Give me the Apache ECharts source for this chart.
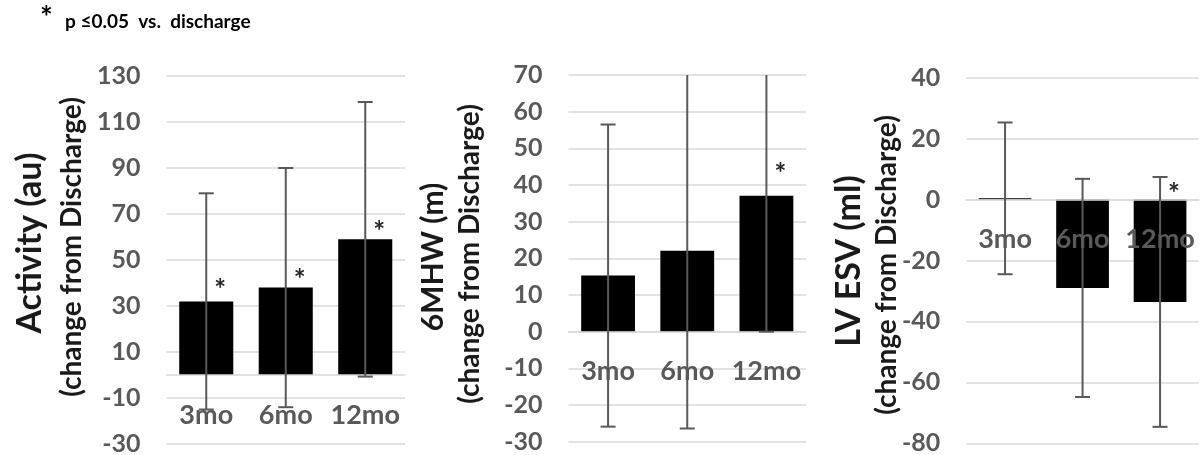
<!DOCTYPE html>
<html><head><meta charset="utf-8">
<script src="https://cdn.jsdelivr.net/npm/echarts@6/dist/echarts.min.js"></script>
<style>html,body{margin:0;padding:0;background:#fff}#c{width:1200px;height:455px}</style>
</head><body><div id="c"></div>
<script>
// ---- data ----
const categories = ['3mo', '6mo', '12mo'];

// Panel 1: Activity (au)
const activityMean = [32, 38, 59];
const activityErr = [47, 52, 59.7];
const activityStar = [40, 44.3, 65.2];
const activityAxis = [-30, 130, 20]; // min, max, interval

// Panel 2: 6MHW (m)
const walkMean = [15.3, 22.1, 37.1];
const walkErr = [41.2, 48.5, 37.1];
const walkStar = [null, null, 45];
const walkAxis = [-30, 70, 10];

// Panel 3: LV ESV (ml)
const esvMean = [0.4, -29, -33.6];
const esvErr = [24.9, 35.8, 41];
const esvStar = [null, null, 4.2];
const esvAxis = [-80, 40, 20];

const FONT = 'Lato, "Open Sans", sans-serif';
const GRAY = '#595959';
const GRID = '#d9d9d9';

const panels = [
  {mean: activityMean, err: activityErr, star: activityStar, axis: activityAxis,
   grid: {left: 166.5, top: 76, width: 238.5, height: 368}},
  {mean: walkMean, err: walkErr, star: walkStar, axis: walkAxis,
   grid: {left: 568.5, top: 75, width: 237.5, height: 366.7}},
  {mean: esvMean, err: esvErr, star: esvStar, axis: esvAxis,
   grid: {left: 966.3, top: 77.7, width: 232.5, height: 365.6}}
];

function errRender(params, api) {
  const x = api.value(0), lo = api.value(1), hi = api.value(2);
  const cs = params.coordSys;
  const pLo = api.coord([x, lo]), pHi = api.coord([x, hi]);
  const top = cs.y, bot = cs.y + cs.height;
  const cap = 7.5;
  const yHi = Math.max(pHi[1], top), yLo = Math.min(pLo[1], bot);
  const st = {stroke: GRAY, lineWidth: 2};
  const ch = [{type: 'line', shape: {x1: pHi[0], y1: yHi, x2: pHi[0], y2: yLo}, style: st}];
  if (pHi[1] >= top) ch.push({type: 'line', shape: {x1: pHi[0] - cap, y1: pHi[1], x2: pHi[0] + cap, y2: pHi[1]}, style: st});
  if (pLo[1] <= bot) ch.push({type: 'line', shape: {x1: pLo[0] - cap, y1: pLo[1], x2: pLo[0] + cap, y2: pLo[1]}, style: st});
  return {type: 'group', children: ch};
}
function starRender(params, api) {
  const p = api.coord([api.value(0), api.value(1)]);
  return {type: 'text', x: p[0] + 14, y: p[1] + 7,
    style: {text: '*', fill: '#262626', font: 'bold 28px ' + FONT, align: 'center', verticalAlign: 'middle'}};
}
// category labels drawn just below the zero line, as the reference does
function catRender(params, api) {
  const k = api.value(0);
  const p = api.coord([k, 0]);
  return {type: 'text', x: p[0], y: p[1] + 40,
    style: {text: categories[k], fill: GRAY, font: 'bold 27px ' + FONT, align: 'center', verticalAlign: 'middle'}};
}

const option = {
  animation: false,
  backgroundColor: '#fff',
  grid: panels.map(p => Object.assign({containLabel: false, outerBoundsMode: 'none'}, p.grid)),
  xAxis: panels.map((p, i) => ({
    type: 'category', gridIndex: i, data: categories, z: 3,
    axisLine: {onZero: true, lineStyle: {color: GRID, width: 1.5}},
    axisTick: {show: false},
    axisLabel: {show: false},
    splitLine: {show: false}
  })),
  yAxis: panels.map((p, i) => ({
    type: 'value', gridIndex: i, min: p.axis[0], max: p.axis[1], interval: p.axis[2],
    axisLine: {show: false}, axisTick: {show: false},
    axisLabel: {color: GRAY, fontFamily: FONT, fontWeight: 'bold', fontSize: 25, margin: 26},
    splitLine: {lineStyle: {color: GRID, width: 1.5}}
  })),
  series: [].concat(...panels.map((p, i) => [
    {type: 'bar', xAxisIndex: i, yAxisIndex: i, data: p.mean, barWidth: '68%', z: 2,
     itemStyle: {color: '#000'}},
    {type: 'custom', xAxisIndex: i, yAxisIndex: i, z: 3, renderItem: catRender,
     data: categories.map((c, k) => [k])},
    {type: 'custom', xAxisIndex: i, yAxisIndex: i, z: 4, renderItem: errRender,
     data: p.mean.map((m, k) => [k, m - p.err[k], m + p.err[k]])},
    {type: 'custom', xAxisIndex: i, yAxisIndex: i, z: 5, renderItem: starRender,
     data: p.star.map((s, k) => s == null ? null : [k, s]).filter(d => d)}
  ])),
  graphic: [
    {type: 'text', x: 40, y: 3, style: {text: '*', font: 'bold 30px ' + FONT, fill: '#000'}},
    {type: 'text', x: 65, y: 12, style: {text: 'p \u22640.05  vs.  discharge', font: 'bold 19px ' + FONT, fill: '#000'}},
    {type: 'text', x: 30, y: 243, rotation: Math.PI / 2,
     style: {text: 'Activity (au)', font: 'bold 34px ' + FONT, fill: '#1a1a1a', align: 'center', verticalAlign: 'middle'}},
    {type: 'text', x: 72, y: 247, rotation: Math.PI / 2,
     style: {text: '(change from Discharge)', font: 'bold 28px ' + FONT, fill: '#1a1a1a', align: 'center', verticalAlign: 'middle'}},
    {type: 'text', x: 433, y: 257, rotation: Math.PI / 2,
     style: {text: '6MHW (m)', font: 'bold 30px ' + FONT, fill: '#1a1a1a', align: 'center', verticalAlign: 'middle'}},
    {type: 'text', x: 470, y: 254, rotation: Math.PI / 2,
     style: {text: '(change from Discharge)', font: 'bold 28px ' + FONT, fill: '#1a1a1a', align: 'center', verticalAlign: 'middle'}},
    {type: 'text', x: 849, y: 261, rotation: Math.PI / 2,
     style: {text: 'LV ESV (ml)', font: 'bold 34px ' + FONT, fill: '#1a1a1a', align: 'center', verticalAlign: 'middle'}},
    {type: 'text', x: 887, y: 265, rotation: Math.PI / 2,
     style: {text: '(change from Discharge)', font: 'bold 28px ' + FONT, fill: '#1a1a1a', align: 'center', verticalAlign: 'middle'}}
  ]
};
const chart = echarts.init(document.getElementById('c'), null, {renderer: 'canvas'});
chart.setOption(option);
</script></body></html>
